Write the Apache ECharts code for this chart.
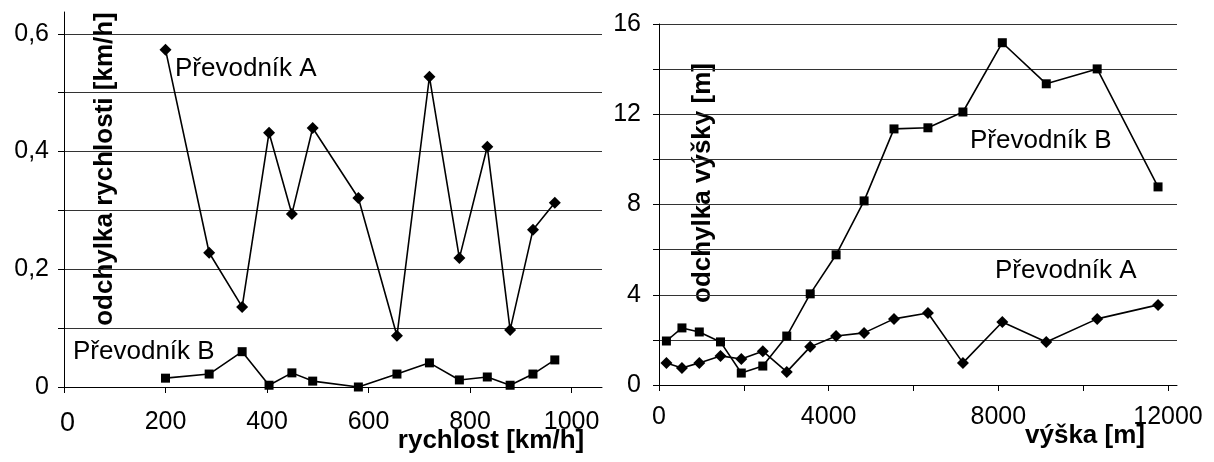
<!DOCTYPE html>
<html>
<head>
<meta charset="utf-8">
<script src="https://cdn.jsdelivr.net/npm/echarts@6/dist/echarts.min.js"></script>
<style>
  html, body { margin: 0; padding: 0; background: #fff; }
  #chart { width: 1214px; height: 462px; }
</style>
</head>
<body>
<div id="chart"></div>
<script>
// levý graf: odchylka rychlosti
const speedKmh = [200, 286, 351, 404, 449, 490, 580, 656, 720, 779, 834, 879, 924, 967];
const speedDevA = [0.573, 0.228, 0.136, 0.432, 0.294, 0.440, 0.321, 0.087, 0.527, 0.219, 0.408, 0.097, 0.267, 0.313];
const speedDevB = [0.015, 0.022, 0.060, 0.003, 0.024, 0.010, 0.000, 0.022, 0.041, 0.012, 0.017, 0.003, 0.022, 0.046];
const speedTicks = [0, 200, 400, 600, 800, 1000];
const speedDevTicks = [0, 0.1, 0.2, 0.3, 0.4, 0.5, 0.6];
const speedDevLabels = [0, 0.2, 0.4, 0.6];

// pravý graf: odchylka výšky
const altitudeM = [175, 541, 950, 1450, 1940, 2447, 3012, 3565, 4175, 4835, 5540, 6340, 7165, 8094, 9130, 10330, 11765];
const altDevA = [0.98, 0.75, 0.98, 1.29, 1.15, 1.50, 0.58, 1.69, 2.17, 2.31, 2.93, 3.19, 0.98, 2.79, 1.91, 2.93, 3.55];
const altDevB = [1.95, 2.53, 2.35, 1.91, 0.53, 0.84, 2.17, 4.04, 5.77, 8.16, 11.35, 11.40, 12.10, 15.17, 13.35, 14.01, 8.78];
const altTicks = [0, 2000, 4000, 6000, 8000, 10000, 12000];
const altLabels = [0, 4000, 8000, 12000];
const altDevTicks = [0, 2, 4, 6, 8, 10, 12, 14, 16];
const altDevLabels = [0, 4, 8, 12, 16];

const FONT = '"Liberation Sans", Arial, sans-serif';

function pairs(xs, ys) {
    return xs.map((x, i) => [x, ys[i]]);
}

function valueAxis(gridIndex, min, max, ticks, labels, margin, fmt, grid, rich) {
    return {
        type: 'value',
        gridIndex: gridIndex,
        min: min,
        max: max,
        axisLine: { show: true, lineStyle: { color: '#000', width: 1 } },
        axisTick: { show: true, inside: false, length: 6, customValues: ticks, lineStyle: { color: '#000' } },
        axisLabel: {
            customValues: labels,
            margin: margin,
            color: '#000',
            fontSize: 25,
            fontFamily: FONT,
            formatter: fmt || (v => String(v)),
            rich: rich || {}
        },
        splitLine: { show: grid, lineStyle: { color: '#333', width: 1 } }
    };
}

function line(xi, yi, data, symbol, size) {
    return {
        type: 'line',
        xAxisIndex: xi,
        yAxisIndex: yi,
        data: data,
        symbol: symbol,
        symbolSize: size,
        showSymbol: true,
        itemStyle: { color: '#000' },
        lineStyle: { color: '#000', width: 1.6 },
        animation: false
    };
}

function text(str, x, y, font, align, rotation) {
    return {
        type: 'text',
        x: x,
        y: y,
        rotation: rotation || 0,
        style: {
            text: str,
            fill: '#000',
            font: font + ' ' + FONT,
            textAlign: align || 'left',
            textVerticalAlign: 'middle'
        }
    };
}

const comma = v => String(v).replace('.', ',');
// nula na ose rychlosti je v originále o kus větší a posunutá doprava
const speedFmt = v => v === 0 ? '{z|0}' : String(v);
const speedRich = { z: { fontSize: 27, fontFamily: FONT, color: '#000', padding: [0, 0, 0, 7] } };

const option = {
    backgroundColor: '#fff',
    animation: false,
    grid: [
        { left: 64, top: 12, width: 538, bottom: 75 },
        { left: 659, top: 24, right: 37, bottom: 77 }
    ],
    xAxis: [
        valueAxis(0, 0, 1060, speedTicks, speedTicks, 23, speedFmt, false, speedRich),
        valueAxis(1, 0, 12212, altTicks, altLabels, 20, null, false)
    ],
    yAxis: [
        valueAxis(0, 0, 0.637, speedDevTicks, speedDevLabels, 15, comma, true),
        valueAxis(1, 0, 16, altDevTicks, altDevLabels, 18, null, true)
    ],
    series: [
        line(0, 0, pairs(speedKmh, speedDevA), 'diamond', 12),
        line(0, 0, pairs(speedKmh, speedDevB), 'rect', 9),
        line(1, 1, pairs(altitudeM, altDevB), 'rect', 9),
        line(1, 1, pairs(altitudeM, altDevA), 'diamond', 12)
    ],
    graphic: [
        text('Převodník A', 175, 69, '26px'),
        text('Převodník B', 73, 352, '26px'),
        text('Převodník B', 970, 141, '26px'),
        text('Převodník A', 995, 271, '26px'),
        text('rychlost [km/h]', 491, 441, 'bold 26px', 'center'),
        text('výška [m]', 1085, 436, 'bold 26px', 'center'),
        text('odchylka rychlosti [km/h]', 105, 169, 'bold 26px', 'center', Math.PI / 2),
        text('odchylka výšky [m]', 703, 183, 'bold 26px', 'center', Math.PI / 2)
    ]
};

const chart = echarts.init(document.getElementById('chart'), null, { renderer: 'canvas' });
chart.setOption(option);
</script>
</body>
</html>
